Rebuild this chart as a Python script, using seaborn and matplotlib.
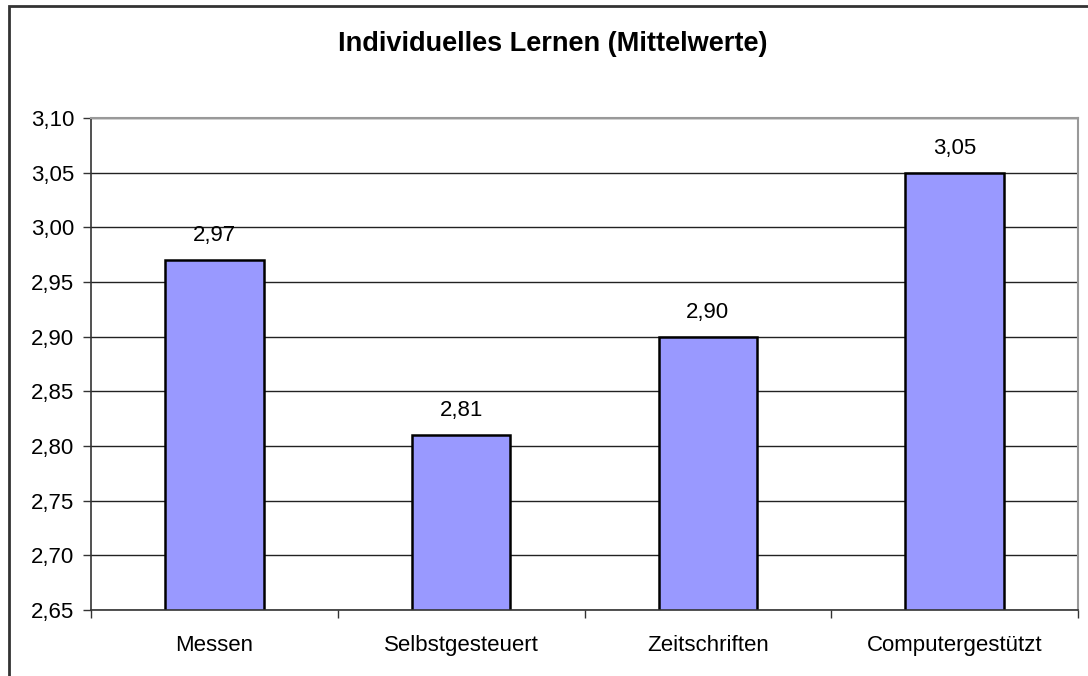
import matplotlib
matplotlib.use("Agg")
import matplotlib.pyplot as plt
from matplotlib.patches import Rectangle
from matplotlib.ticker import FixedLocator, FuncFormatter
import numpy as np
import seaborn as sns

# data
categories = ["Messen", "Selbstgesteuert", "Zeitschriften", "Computergestützt"]
means = [2.97, 2.81, 2.90, 3.05]
yticks = [2.65, 2.70, 2.75, 2.80, 2.85, 2.90, 2.95, 3.00, 3.05, 3.10]
title = "Individuelles Lernen (Mittelwerte)"


def de_fmt(v, pos=None):
    return "{:.2f}".format(v).replace(".", ",")


sns.set_theme(style="white", rc={"text.color": "black",
                                 "xtick.color": "black",
                                 "ytick.color": "black"})
plt.rcParams["font.family"] = ["Liberation Sans", "DejaVu Sans"]

fig = plt.figure(figsize=(10.88, 6.76), dpi=100)
ax = fig.add_axes([91 / 1088, 1 - 610 / 676, (1078 - 91) / 1088, (610 - 118) / 676])

sns.barplot(x=categories, y=means, color="#9999FF", edgecolor="black",
            linewidth=1.8, width=0.40, saturation=1, ax=ax)

ax.set_ylim(yticks[0], yticks[-1])
ax.set_xlim(-0.5, len(categories) - 0.5)
ax.yaxis.set_major_locator(FixedLocator(yticks))
ax.yaxis.set_major_formatter(FuncFormatter(de_fmt))
ax.grid(axis="y", color="#222222", linewidth=1.0)
ax.set_axisbelow(True)

# ticks between categories, labels centred
ax.set_xticks(np.arange(len(categories)))
ax.set_xticklabels(categories)
ax.set_xticks(np.arange(len(categories) + 1) - 0.5, minor=True)
ax.tick_params(axis="x", which="major", length=0, pad=18, labelsize=16)
ax.tick_params(axis="x", which="minor", length=6, width=1, color="#333333",
               direction="out", bottom=True)
ax.tick_params(axis="y", length=6, width=1, color="#333333", direction="out",
               left=True, pad=6, labelsize=16)
ax.set_xlabel("")
ax.set_ylabel("")

for side in ["left", "bottom"]:
    ax.spines[side].set_color("#333333")
    ax.spines[side].set_linewidth(1.2)
for side in ["top", "right"]:
    ax.spines[side].set_color("#999999")
    ax.spines[side].set_linewidth(1.5)

ax.bar_label(ax.containers[0], labels=[de_fmt(v) for v in means],
             padding=10, fontsize=16, color="black", clip_on=False)

fig.text(553 / 1088, 1 - 44 / 676, title, ha="center", va="center",
         fontsize=19.5, fontweight="bold", color="black")

# outer chart frame (right and bottom edges fall outside the picture)
fig.patches.append(Rectangle((9 / 1088, -0.05), 1.1, 1 - 6 / 676 + 0.05,
                             transform=fig.transFigure, fill=False,
                             edgecolor="#333333", linewidth=2))

fig.savefig("out.png", dpi=100)
